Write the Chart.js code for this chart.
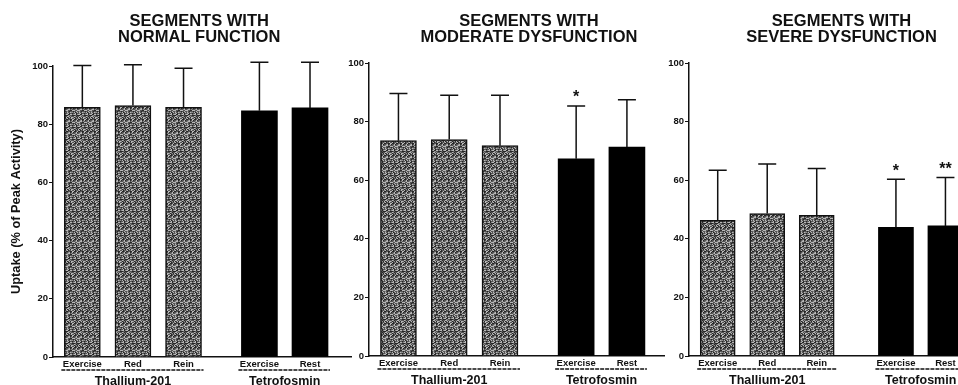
<!DOCTYPE html>
<html>
<head>
<meta charset="utf-8">
<script src="https://cdn.jsdelivr.net/npm/chart.js@4.4.1/dist/chart.umd.min.js"></script>
<style>
    html, body { margin: 0; padding: 0; background: #fff; overflow: hidden; width: 958px; height: 385px; }
    canvas { position: absolute; top: 0; }
</style>
</head>
<body>
<canvas id="normal" width="352" height="385" style="left:0px"></canvas>
<canvas id="moderate" width="335" height="385" style="left:330px"></canvas>
<canvas id="severe" width="340" height="385" style="left:650px"></canvas>
<script>
// bar labels and where they sit on the x axis (gap between the two tracers)
const conditions = ['Exercise', 'Red', 'Rein', 'Exercise', 'Rest'];
const groups = ['Thallium-201', 'Tetrofosmin'];
const positionsA = [1, 2, 3, 4.5, 5.5];
const positionsB = [1, 2, 3, 4.6, 5.6];

// uptake, % of peak activity (mean and upper SD)
const normalMean = [85.8, 86.4, 85.8, 84.6, 85.6];
const normalSD = [14.4, 14.0, 13.4, 16.7, 15.7];
const moderateMean = [73.5, 73.9, 71.8, 67.3, 71.3];
const moderateSD = [16.1, 15.1, 17.2, 18.0, 16.2];
const severeMean = [46.3, 48.6, 48.0, 43.9, 44.4];
const severeSD = [17.1, 16.9, 16.0, 16.4, 16.5];

// significance marks
const normalMarks = ['', '', '', '', ''];
const moderateMarks = ['', '', '', '*', ''];
const severeMarks = ['', '', '', '*', '**'];

const FONT = "'Liberation Sans', Arial, Helvetica, sans-serif";

// gray speckled fill for the thallium bars
function stipple() {
    const c = document.createElement('canvas');
    c.width = 12; c.height = 12;
    const g = c.getContext('2d');
    g.fillStyle = '#545454';
    g.fillRect(0, 0, 12, 12);
    for (let i = 0; i < 12; i++) {
        for (let j = 0; j < 12; j++) {
            const h = (i * 7 + j * 5 + ((i * j) % 5)) % 9;
            if (h < 2) { g.fillStyle = '#b8b8b8'; g.fillRect(i, j, 1, 1); }
            else if (h === 2) { g.fillStyle = '#8a8a8a'; g.fillRect(i, j, 1, 1); }
            else if (h >= 7) { g.fillStyle = '#262626'; g.fillRect(i, j, 1, 1); }
        }
    }
    return g.createPattern(c, 'repeat');
}
const grayFill = stipple();

// draws error bars, stars, tick names, group labels and the panel title
function decor(cfg) {
    return {
        id: 'decor',
        afterDatasetsDraw(chart) {
            const ctx = chart.ctx;
            const xs = chart.scales.x, ys = chart.scales.y;
            const area = chart.chartArea;
            const bars = chart.getDatasetMeta(0).data;
            ctx.save();

            // error bars
            ctx.strokeStyle = '#111';
            ctx.lineWidth = 1.5;
            bars.forEach((bar, i) => {
                const top = ys.getPixelForValue(cfg.mean[i] + cfg.sd[i]);
                ctx.beginPath();
                ctx.moveTo(bar.x, bar.y);
                ctx.lineTo(bar.x, top);
                ctx.moveTo(bar.x - 9, top);
                ctx.lineTo(bar.x + 9, top);
                ctx.stroke();
                if (cfg.marks[i]) {
                    ctx.fillStyle = '#111';
                    ctx.font = 'bold 16px ' + FONT;
                    ctx.textAlign = 'center';
                    ctx.textBaseline = 'middle';
                    ctx.fillText(cfg.marks[i], bar.x, top - 8);
                }
            });

            // bar names under the axis
            ctx.fillStyle = '#111';
            ctx.font = 'bold 9.5px ' + FONT;
            ctx.textAlign = 'center';
            ctx.textBaseline = 'middle';
            bars.forEach((bar, i) => {
                ctx.fillText(conditions[i], bar.x, area.bottom + 7);
            });

            // group underline + label
            const half = cfg.barWidth / 2;
            [[0, 2], [3, 4]].forEach((g, k) => {
                const a = bars[g[0]], b = bars[g[1]];
                ctx.setLineDash([4, 1]);
                ctx.lineWidth = 1.3;
                ctx.beginPath();
                ctx.moveTo(a.x - half - 3, area.bottom + 13);
                ctx.lineTo(b.x + half + 2, area.bottom + 13);
                ctx.stroke();
                ctx.setLineDash([]);
                ctx.font = 'bold 12.5px ' + FONT;
                ctx.fillText(groups[k], (a.x + b.x) / 2, area.bottom + 25);
            });

            // two line title
            const cx = xs.getPixelForValue(cfg.titleX);
            ctx.font = 'bold 16.5px ' + FONT;
            ctx.fillText(cfg.title[0], cx, 21);
            ctx.fillText(cfg.title[1], cx, 37.5);
            ctx.restore();
        }
    };
}

function makePanel(id, cfg) {
    const fills = [grayFill, grayFill, grayFill, '#000', '#000'];
    new Chart(document.getElementById(id), {
        type: 'bar',
        data: {
            datasets: [{
                data: cfg.positions.map((x, i) => ({ x: x, y: cfg.mean[i] })),
                backgroundColor: fills,
                borderColor: '#111',
                borderWidth: [1.5, 1.5, 1.5, 0, 0],
                barThickness: cfg.barWidth
            }]
        },
        options: {
            responsive: false,
            animation: false,
            layout: { padding: { top: cfg.top, bottom: cfg.bottom, left: 0, right: 0 } },
            plugins: {
                legend: { display: false },
                tooltip: { enabled: false }
            },
            scales: {
                x: {
                    type: 'linear',
                    min: 0.42,
                    max: cfg.xMax,
                    offset: false,
                    ticks: { display: false },
                    grid: { display: false, offset: false },
                    border: { color: '#111', width: 1.5 },
                    afterFit: s => { s.height = 0; }
                },
                y: {
                    min: 0,
                    max: 100,
                    ticks: { stepSize: 20, color: '#111', padding: 1, font: { family: FONT, size: 9.5, weight: 'bold' } },
                    grid: { drawOnChartArea: false, color: '#111', tickLength: 4, lineWidth: 1 },
                    border: { color: '#111', width: 1.5 },
                    title: {
                        display: cfg.yTitle,
                        text: 'Uptake (% of Peak Activity)',
                        color: '#111',
                        padding: { top: 9, bottom: 0 },
                        font: { family: FONT, size: 12.8, weight: 'bold' }
                    },
                    afterFit: s => { s.width = cfg.yWidth; }
                }
            }
        },
        plugins: [decor(cfg)]
    });
}

makePanel('normal', {
    title: ['SEGMENTS WITH', 'NORMAL FUNCTION'], titleX: 3.31,
    mean: normalMean, sd: normalSD, marks: normalMarks, positions: positionsA,
    xMax: 6.33, yWidth: 53, top: 66, bottom: 28, barWidth: 36, yTitle: true
});
makePanel('moderate', {
    title: ['SEGMENTS WITH', 'MODERATE DYSFUNCTION'], titleX: 3.57,
    mean: moderateMean, sd: moderateSD, marks: moderateMarks, positions: positionsA,
    xMax: 6.25, yWidth: 39, top: 63, bottom: 29, barWidth: 36, yTitle: false
});
makePanel('severe', {
    title: ['SEGMENTS WITH', 'SEVERE DYSFUNCTION'], titleX: 3.5,
    mean: severeMean, sd: severeSD, marks: severeMarks, positions: positionsB,
    xMax: 6.5, yWidth: 39, top: 63, bottom: 29, barWidth: 35, yTitle: false
});
</script>
</body>
</html>
